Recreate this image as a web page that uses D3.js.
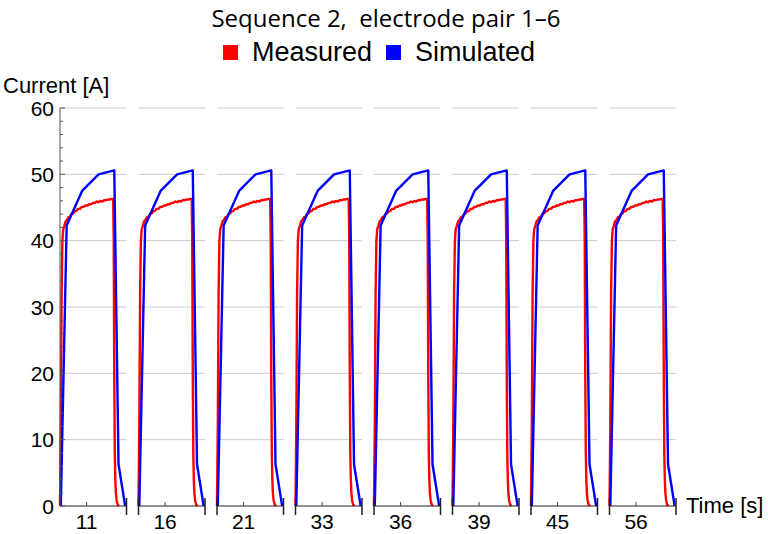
<!DOCTYPE html>
<html lang="en">
<head>
<meta charset="utf-8">
<title>Sequence 2, electrode pair 1-6</title>
<script src="https://d3js.org/d3.v7.min.js"></script>
<style>
body { margin: 0; background: #fff; }
svg { display: block; }
.grid line { stroke: #cccccc; stroke-width: 1; }
.trace { fill: none; stroke-width: 2.4; stroke-linejoin: round; }
</style>
</head>
<body>
<script>

// pulse start times shown on the x axis (one panel per pulse)
var pulseTicks = [11, 16, 21, 33, 36, 39, 45, 56];

// measured current, time since panel start [s] and current [A]
var measuredT = [0.00, 0.03, 0.06, 0.09, 0.12, 0.16, 0.21, 0.26, 0.31, 0.37, 0.43, 0.49, 0.55,
                 0.62, 0.68, 0.75, 0.82, 0.89, 0.96, 1.03, 1.10, 1.17, 1.24, 1.31, 1.38, 1.45,
                 1.52, 1.59, 1.66, 1.73, 1.80, 1.87, 1.94, 2.00, 2.02, 2.04, 2.06, 2.08, 2.10,
                 2.13, 2.17, 2.22];
var measuredA = [0, 12, 32, 40, 41.7, 42.2, 42.9, 43.1, 43.5, 43.6, 44.0, 44.1, 44.4,
                 44.5, 44.8, 44.8, 45.1, 45.1, 45.3, 45.3, 45.5, 45.5, 45.7, 45.7, 45.9, 45.8,
                 46.0, 45.9, 46.1, 46.1, 46.2, 46.2, 46.3, 46.3, 40, 20, 8, 4, 2,
                 0.8, 0.2, 0];

// simulated current
var simulatedT = [0.03, 0.25, 0.83, 1.45, 2.04, 2.20, 2.45];
var simulatedA = [0, 42.3, 47.5, 50.0, 50.6, 6.3, 0];

var yTicks = [0, 10, 20, 30, 40, 50, 60];
var yMinor = d3.range(0, 61, 2);

var W = 768, H = 534;
var svg = d3.select("body").append("svg").attr("width", W).attr("height", H);

var y = d3.scaleLinear().domain([0, 60]).range([506, 108]);

var panel = d3.scaleBand()
    .domain(pulseTicks)
    .range([60, 676])
    .paddingInner(12 / 78.5);

var measured = measuredT.map(function(t, i) { return [t, measuredA[i]]; });
var simulated = simulatedT.map(function(t, i) { return [t, simulatedA[i]]; });

// title
svg.append("text")
    .attr("x", 386).attr("y", 27)
    .attr("text-anchor", "middle")
    .style("font", "24px 'Open Sans'")
    .style("white-space", "pre")
    .text("Sequence 2,  electrode pair 1\u20136");

// legend
var legend = [["Measured", "#ff0000", 223], ["Simulated", "#0000ff", 386]];
legend.forEach(function(d) {
    svg.append("rect").attr("x", d[2]).attr("y", 45).attr("width", 15).attr("height", 15)
        .attr("fill", d[1]);
    svg.append("text").attr("x", d[2] + 29).attr("y", 61)
        .style("font", "27px 'Liberation Sans'")
        .text(d[0]);
});

// axis titles
svg.append("text").attr("x", 3).attr("y", 93)
    .style("font", "22px 'Liberation Sans'")
    .text("Current [A]");
svg.append("text").attr("x", 686).attr("y", 513)
    .style("font", "22px 'Liberation Sans'")
    .text("Time [s]");

// y tick labels
svg.selectAll(".ylab").data(yTicks).enter().append("text")
    .attr("class", "ylab")
    .attr("x", 54).attr("y", function(d) { return y(d); })
    .attr("dy", "0.36em")
    .attr("text-anchor", "end")
    .style("font", "21px 'Liberation Sans'")
    .text(function(d) { return d; });

pulseTicks.forEach(function(tick, i) {
    var x0 = panel(tick), bw = panel.bandwidth();
    var x = d3.scaleLinear().domain([tick - 1, tick + 1.5]).range([x0, x0 + bw]);
    var g = svg.append("g");

    // grid
    g.append("g").attr("class", "grid")
        .selectAll("line").data(yTicks.slice(1)).enter().append("line")
        .attr("x1", x0).attr("x2", x0 + bw)
        .attr("y1", function(d) { return y(d); })
        .attr("y2", function(d) { return y(d); });

    var line = d3.line()
        .x(function(d) { return x(tick - 1 + d[0]); })
        .y(function(d) { return y(d[1]); });

    g.append("path").attr("class", "trace").attr("stroke", "#ff0000").attr("d", line(measured));
    g.append("path").attr("class", "trace").attr("stroke", "#0000ff").attr("d", line(simulated));

    // bottom axis
    g.append("line").attr("x1", x0).attr("x2", x0 + bw)
        .attr("y1", y(0)).attr("y2", y(0))
        .attr("stroke", "#222").attr("stroke-width", 1.2);
    g.append("line").attr("x1", x(tick)).attr("x2", x(tick))
        .attr("y1", y(0)).attr("y2", y(0) - 4)
        .attr("stroke", "#444");
    g.append("text").attr("x", x(tick)).attr("y", 529)
        .attr("text-anchor", "middle")
        .style("font", "21px 'Liberation Sans'")
        .text(tick);

    // break marks
    g.append("line").attr("x1", x0 + bw).attr("x2", x0 + bw)
        .attr("y1", 498).attr("y2", 515).attr("stroke", "#222").attr("stroke-width", 1.5);
    if (i > 0) {
        g.append("line").attr("x1", x0).attr("x2", x0)
            .attr("y1", 498).attr("y2", 515).attr("stroke", "#222").attr("stroke-width", 1.5);
    }
});

// left axis
svg.append("line").attr("x1", 60).attr("x2", 60)
    .attr("y1", y(0)).attr("y2", y(60))
    .attr("stroke", "#555");
svg.selectAll(".ytick").data(yMinor).enter().append("line")
    .attr("class", "ytick")
    .attr("x1", 60)
    .attr("x2", function(d) { return d % 10 === 0 ? 65 : 63; })
    .attr("y1", function(d) { return y(d); })
    .attr("y2", function(d) { return y(d); })
    .attr("stroke", "#555");

</script>
</body>
</html>
